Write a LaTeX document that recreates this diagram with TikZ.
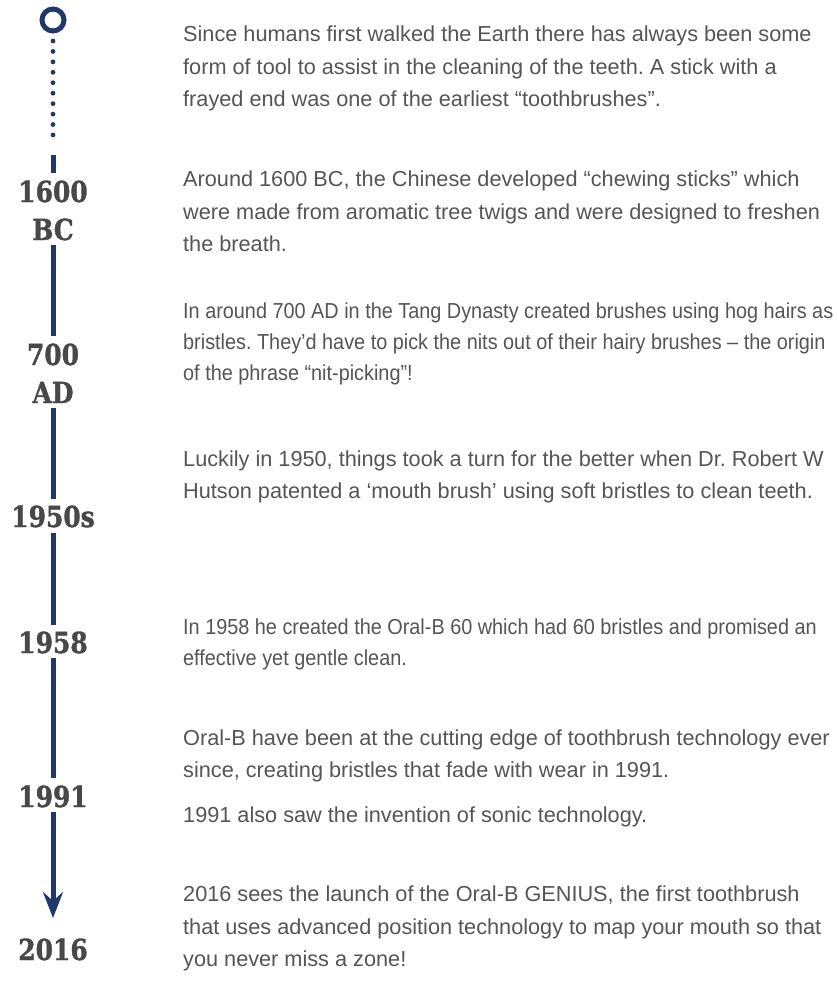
\documentclass[tikz,border=0pt]{standalone}
\usepackage{fontspec}
\usetikzlibrary{arrows.meta}
\newfontfamily\bodyfont{Liberation Sans}
\newfontfamily\narrowfont{Liberation Sans}[FakeStretch=0.915]
\newfontfamily\yearfont{DejaVu Serif}[FakeStretch=0.86, FakeBold=1.2]
\definecolor{navy}{RGB}{33,56,110}
\definecolor{bodygray}{RGB}{85,85,85}
\definecolor{yeargray}{RGB}{72,72,72}
\frenchspacing
\begin{document}
\begin{tikzpicture}[x=1pt,y=-1pt,
  tl/.style={line width=5pt, draw=navy},
  year/.style={anchor=base, inner sep=0pt, text=yeargray, font=\yearfont\bfseries\fontsize{29}{38}\selectfont},
  para/.style={anchor=north west, inner sep=0pt, align=left, text=bodygray, font=\bodyfont\fontsize{21.7}{32.5}\selectfont},
  npara/.style={anchor=north west, inner sep=0pt, align=left, text=bodygray, font=\narrowfont\fontsize{21.7}{31}\selectfont}
]
\useasboundingbox (0,0) rectangle (837,1004);
% start circle and dotted lead
\node[circle, draw=navy, line width=5pt, minimum size=22pt, inner sep=0pt] (start) at (53,20) {};
\coordinate (d1) at (53,41);
\coordinate (d2) at (53,135);
\draw[draw=navy, line width=4.8pt, line cap=round, dash pattern=on 0pt off 10.44pt] (d1) -- (d2);
% year labels
\node[year] (y1600) at (53,202) {1600};
\node[year] (ybc) at (53,240) {BC};
\node[year] (y700) at (53,365) {700};
\node[year] (yad) at (53,403) {AD};
\node[year] (y1950) at (53,527) {1950s};
\node[year] (y1958) at (53,653) {1958};
\node[year] (y1991) at (53,807) {1991};
\node[year] (y2016) at (53,960) {2016};
% segment ends
\coordinate (a0) at (53,155); \coordinate (b0) at (53,173);
\coordinate (a1) at (53,245); \coordinate (b1) at (53,336);
\coordinate (a2) at (53,408); \coordinate (b2) at (53,499);
\coordinate (a3) at (53,533); \coordinate (b3) at (53,625);
\coordinate (a4) at (53,658); \coordinate (b4) at (53,778);
\coordinate (a5) at (53,812); \coordinate (b5) at (53,918);
\draw[tl] (a0) -- (b0);
\draw[tl] (a1) -- (b1);
\draw[tl] (a2) -- (b2);
\draw[tl] (a3) -- (b3);
\draw[tl] (a4) -- (b4);
\draw[tl, -{Stealth[length=26pt, width=20pt, inset=9pt]}] (a5) -- (b5);
% paragraphs
\node[para] (p1) at (183,18.75) {\strut Since humans first walked the Earth there has always been some\\form of tool to assist in the cleaning of the teeth. A stick with a\\frayed end was one of the earliest “toothbrushes”.};
\node[para] (p2) at (183,163.75) {\strut Around 1600 BC, the Chinese developed “chewing sticks” which\\were made from aromatic tree twigs and were designed to freshen\\the breath.};
\node[npara] (p3) at (183,296.3) {\strut In around 700 AD in the Tang Dynasty created brushes using hog hairs as\\bristles. They’d have to pick the nits out of their hairy brushes – the origin\\of the phrase “nit-picking”!};
\node[para] (p4) at (183,443.25) {\strut Luckily in 1950, things took a turn for the better when Dr. Robert W\\Hutson patented a ‘mouth brush’ using soft bristles to clean teeth.};
\node[npara] (p5) at (183,612.3) {\strut In 1958 he created the Oral-B 60 which had 60 bristles and promised an\\effective yet gentle clean.};
\node[para] (p6) at (183,722.25) {\strut Oral-B have been at the cutting edge of toothbrush technology ever\\since, creating bristles that fade with wear in 1991.};
\node[para] (p6b) at (183,800) {\strut 1991 also saw the invention of sonic technology.};
\node[para] (p7) at (183,878.75) {\strut 2016 sees the launch of the Oral-B GENIUS, the first toothbrush\\that uses advanced position technology to map your mouth so that\\you never miss a zone!};
\end{tikzpicture}
\end{document}
